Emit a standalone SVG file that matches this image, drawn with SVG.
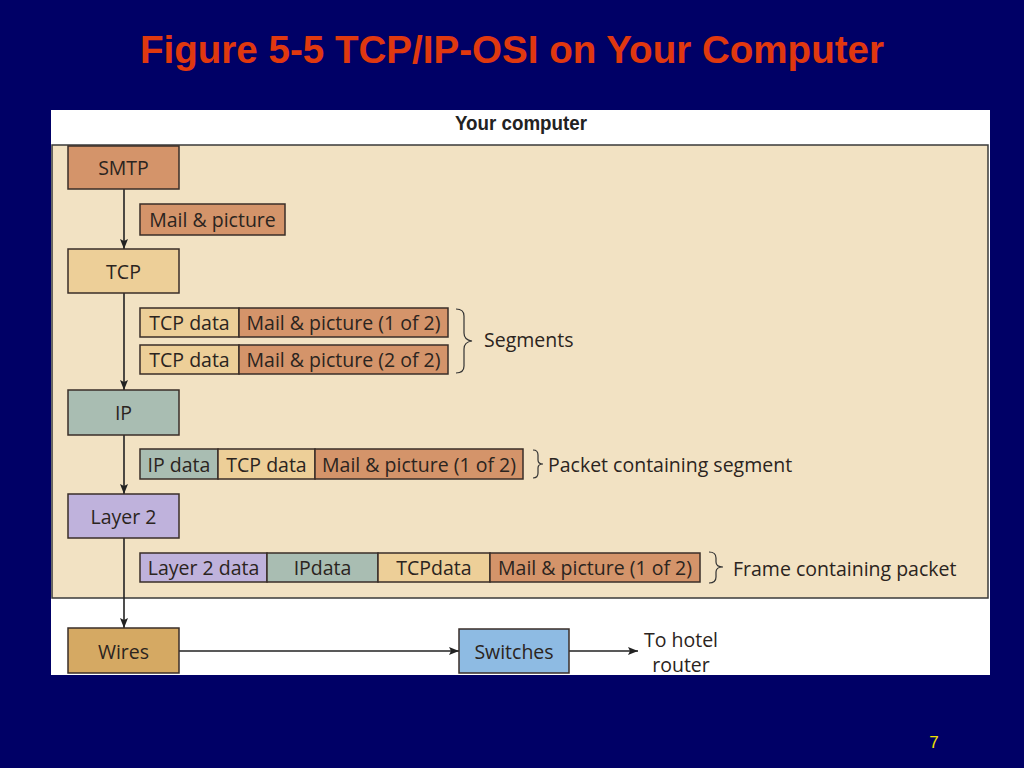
<svg xmlns="http://www.w3.org/2000/svg" width="1024" height="768" viewBox="0 0 1024 768">
<defs>
<marker id="ah" viewBox="0 0 10 10" refX="10" refY="5" markerWidth="10" markerHeight="10" markerUnits="userSpaceOnUse" orient="auto">
<path d="M0,1 L10,5 L0,9 L2,5 Z" fill="#222"/>
</marker>
<style>
.t{font-family:"Open Sans","Liberation Sans",sans-serif;font-size:19.5px;fill:#2b2420;text-anchor:middle;dominant-baseline:central}
.l{font-family:"Open Sans","Liberation Sans",sans-serif;font-size:19.5px;fill:#2b2420;dominant-baseline:central}
.b{stroke:#3a2e28;stroke-width:1.5}
.smtp{fill:#D4946A}
.tcp{fill:#EDCF98}
.ip{fill:#A9BDB2}
.l2{fill:#BFB2DC}
.wire{fill:#D5A963}
.sw{fill:#8EBBE3}
.c{stroke:#222;stroke-width:1.6;fill:none}
.br{stroke:#333;stroke-width:1.2;fill:none}
</style>
</defs>
<rect width="1024" height="768" fill="#000066"/>
<text x="512" y="63" font-family="Liberation Sans, Arial, sans-serif" font-weight="bold" font-size="38" fill="#E0380F" text-anchor="middle" textLength="744" lengthAdjust="spacingAndGlyphs">Figure 5-5 TCP/IP-OSI on Your Computer</text>
<rect x="51" y="110" width="939" height="565" fill="#ffffff"/>
<rect x="52" y="145" width="936" height="453" fill="#F2E2C3" stroke="#3a3a3a" stroke-width="1.5"/>
<text x="521" y="129.5" font-family="Liberation Sans, Arial, sans-serif" font-weight="bold" font-size="19.5" fill="#222" text-anchor="middle" textLength="132" lengthAdjust="spacingAndGlyphs">Your computer</text>

<g id="connectors">
<line class="c" x1="124" y1="189" x2="124" y2="249" marker-end="url(#ah)"/>
<line class="c" x1="124" y1="293" x2="124" y2="390" marker-end="url(#ah)"/>
<line class="c" x1="124" y1="435" x2="124" y2="494" marker-end="url(#ah)"/>
<line class="c" x1="124" y1="538" x2="124" y2="628" marker-end="url(#ah)"/>
<line class="c" x1="179" y1="651" x2="459" y2="651" marker-end="url(#ah)"/>
<line class="c" x1="569" y1="651" x2="638" y2="651" marker-end="url(#ah)"/>
</g>

<g id="smtp"><rect class="b smtp" x="68" y="146" width="111" height="43"/><text class="t" x="123.5" y="167.5">SMTP</text></g>
<g id="mail"><rect class="b smtp" x="140" y="204" width="145" height="31"/><text class="t" x="212.5" y="219.5">Mail &amp; picture</text></g>
<g id="tcp"><rect class="b tcp" x="68" y="249" width="111" height="44"/><text class="t" x="123.5" y="271">TCP</text></g>

<g id="seg1">
<rect class="b tcp" x="140" y="308" width="99" height="29"/><text class="t" x="189.5" y="322.5">TCP data</text>
<rect class="b smtp" x="239" y="308" width="209" height="29"/><text class="t" x="343.5" y="322.5">Mail &amp; picture (1 of 2)</text>
</g>
<g id="seg2">
<rect class="b tcp" x="140" y="345" width="99" height="29"/><text class="t" x="189.5" y="359.5">TCP data</text>
<rect class="b smtp" x="239" y="345" width="209" height="29"/><text class="t" x="343.5" y="359.5">Mail &amp; picture (2 of 2)</text>
</g>
<g id="segments">
<path class="br" d="M456,309 Q464,309 464,316 L464,333 Q464,340 472,341 Q464,342 464,349 L464,366 Q464,373 456,373"/>
<text class="l" x="484" y="339">Segments</text>
</g>

<g id="ip"><rect class="b ip" x="68" y="390" width="111" height="45"/><text class="t" x="123.5" y="412.5">IP</text></g>
<g id="packet">
<rect class="b ip" x="140" y="449" width="78" height="30"/><text class="t" x="179" y="464">IP data</text>
<rect class="b tcp" x="218" y="449" width="97" height="30"/><text class="t" x="266.5" y="464">TCP data</text>
<rect class="b smtp" x="315" y="449" width="208" height="30"/><text class="t" x="419" y="464">Mail &amp; picture (1 of 2)</text>
<path class="br" d="M533,450 Q538,450 538,455 L538,460 Q538,464 543,464 Q538,464 538,468 L538,473 Q538,478 533,478"/>
<text class="l" x="548" y="464">Packet containing segment</text>
</g>

<g id="layer2"><rect class="b l2" x="68" y="494" width="111" height="44"/><text class="t" x="123.5" y="516">Layer 2</text></g>
<g id="frame">
<rect class="b l2" x="140" y="553" width="127" height="29"/><text class="t" x="203.5" y="567.5">Layer 2 data</text>
<rect class="b ip" x="267" y="553" width="111" height="29"/><text class="t" x="322.5" y="567.5">IPdata</text>
<rect class="b tcp" x="378" y="553" width="112" height="29"/><text class="t" x="434" y="567.5">TCPdata</text>
<rect class="b smtp" x="490" y="553" width="210" height="29"/><text class="t" x="595" y="567.5">Mail &amp; picture (1 of 2)</text>
<path class="br" d="M709,552 Q716,552 716,558 L716,562 Q716,567 723,567 Q716,567 716,572 L716,577 Q716,583 709,583"/>
<text class="l" x="733" y="568">Frame containing packet</text>
</g>

<g id="wires"><rect class="b wire" x="68" y="628" width="111" height="45"/><text class="t" x="123.5" y="651">Wires</text></g>
<g id="switches"><rect class="b sw" x="459" y="629" width="110" height="44"/><text class="t" x="514" y="651">Switches</text></g>
<g id="hotel"><text class="t" x="681" y="639">To hotel</text><text class="t" x="681" y="664">router</text></g>

<text x="934" y="748" font-family="Liberation Sans, Arial, sans-serif" font-size="17" fill="#F0E000" text-anchor="middle">7</text>
</svg>
